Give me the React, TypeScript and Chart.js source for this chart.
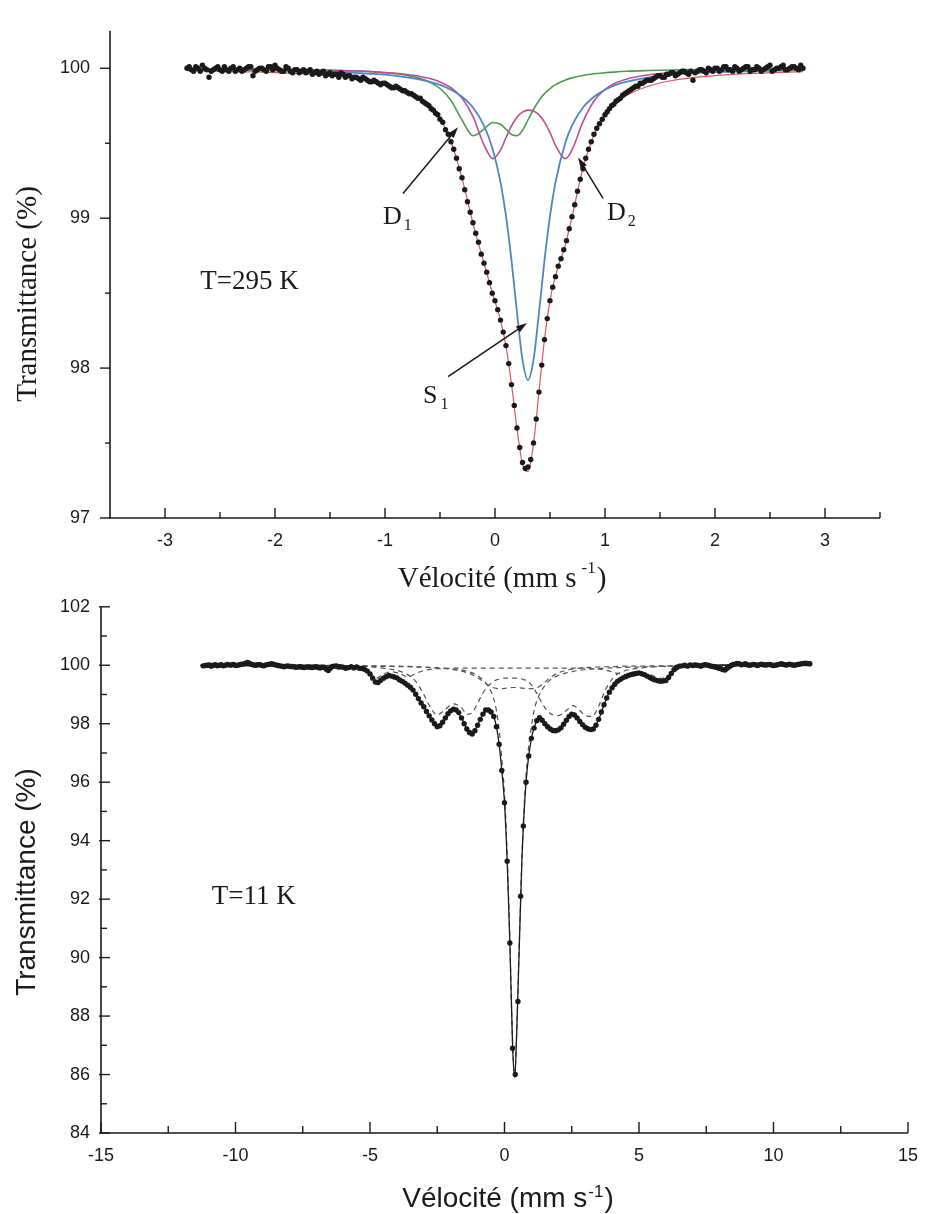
import React, { useEffect, useRef } from "react";
import { Chart, registerables } from "chart.js";

Chart.register(...registerables);

const SERIF = '"Liberation Serif", "Times New Roman", serif';
const SANS = '"Liberation Sans", Arial, sans-serif';
const INK = "#1a1a1a";

// ================= TOP PANEL : T = 295 K =================
const topYTicks = [97, 98, 99, 100];
const topYMinor = [97.5, 98.5, 99.5];
const topXTicks = [-3, -2, -1, 0, 1, 2, 3];
const topXMinor = [-2.5, -1.5, -0.5, 0.5, 1.5, 2.5, 3.5];

// measured points (velocity channels)
const topDataLeftStart = -2.8;
const topDataLeftStep = 0.04;
const topDataLeft = [
  100.0, 99.99, 100.01, 99.98, 100.0, 99.94, 99.99, 100.01, 99.98, 99.99,
  100.0, 99.98, 100.0, 99.99, 100.01, 99.95, 99.99, 100.0, 99.98, 100.01,
  100.02, 99.99, 99.98, 100.0, 99.97, 99.99, 99.98, 99.97, 99.99, 99.97,
  99.96, 99.98, 99.96, 99.95, 99.96, 99.97, 99.94, 99.95, 99.94, 99.93,
  99.94, 99.92, 99.91, 99.91, 99.89, 99.9, 99.88, 99.87, 99.87, 99.85,
  99.84, 99.83, 99.81, 99.8, 99.77, 99.75, 99.72, 99.69,
];
const topDataLeftBStart = -2.78;
const topDataLeftBStep = 0.04;
const topDataLeftB = [
  100.01, 99.98, 100.0, 100.02, 99.99, 99.98, 100.0, 99.99, 100.01, 99.98,
  100.01, 99.99, 99.98, 100.0, 100.01, 99.98, 100.0, 99.99, 100.01, 99.99,
  100.0, 99.98, 100.01, 99.98, 99.99, 99.97, 99.99, 99.98, 99.96, 99.98,
  99.97, 99.95, 99.97, 99.96, 99.94, 99.96, 99.95, 99.93, 99.94, 99.92,
  99.93, 99.91, 99.92, 99.9, 99.9, 99.89, 99.87, 99.88, 99.86, 99.85,
  99.83, 99.82, 99.8, 99.78, 99.76, 99.73, 99.7,
];
const topDataMidStart = -0.5;
const topDataMidStep = 0.025;
const topDataMid = [
  99.66, 99.64, 99.59, 99.56, 99.51, 99.46, 99.4, 99.33, 99.27, 99.19,
  99.11, 99.04, 98.97, 98.9, 98.84, 98.76, 98.7, 98.64, 98.57, 98.5,
  98.45, 98.39, 98.32, 98.24, 98.15, 98.03, 97.89, 97.75, 97.6, 97.47,
  97.37, 97.33, 97.34, 97.39, 97.5, 97.66, 97.84, 98.02, 98.19, 98.33,
  98.45, 98.54, 98.61, 98.68, 98.73, 98.79, 98.85, 98.93, 99.01, 99.09,
  99.18, 99.26, 99.33, 99.4, 99.46, 99.51, 99.56, 99.6, 99.63, 99.66,
  99.69,
];
const topDataRightStart = 1.04;
const topDataRightStep = 0.04;
const topDataRight = [
  99.73, 99.76, 99.79, 99.82, 99.84, 99.86, 99.88, 99.9, 99.91, 99.92,
  99.93, 99.95, 99.94, 99.96, 99.97, 99.95, 99.97, 99.98, 99.96, 99.92,
  99.98, 99.99, 99.97, 99.99, 100.0, 99.98, 100.01, 99.99, 99.98, 100.0,
  99.99, 100.01, 99.98, 99.99, 100.0, 99.99, 100.01, 99.98, 100.0, 100.01,
  99.99, 100.0, 100.01, 99.99, 100.0,
];
const topDataRightBStart = 1.02;
const topDataRightBStep = 0.04;
const topDataRightB = [
  99.71, 99.75, 99.78, 99.8, 99.83, 99.85, 99.87, 99.88, 99.9, 99.92,
  99.92, 99.94, 99.95, 99.94, 99.96, 99.97, 99.96, 99.98, 99.97, 99.98,
  99.97, 99.99, 99.98, 100.0, 99.98, 100.0, 99.99, 100.01, 99.99, 100.01,
  99.98, 100.0, 100.01, 99.99, 100.01, 99.98, 100.0, 100.02, 99.99, 100.0,
  100.02, 99.99, 100.01, 100.0, 100.02,
];

// fitted curves
const topFitV = [
  -2.8, -2.2, -1.8, -1.5, -1.3, -1.1, -1.0, -0.9, -0.8, -0.7,
  -0.6, -0.5, -0.4, -0.3, -0.2, -0.1, -0.02, 0.05, 0.1, 0.15,
  0.2, 0.25, 0.3, 0.35, 0.4, 0.45, 0.5, 0.55, 0.64, 0.7,
  0.8, 0.9, 1.0, 1.1, 1.2, 1.4, 1.6, 1.8, 2.2, 2.8,
];
const topTotal = [
  99.984, 99.976, 99.965, 99.951, 99.937, 99.915, 99.899, 99.879, 99.851, 99.812,
  99.754, 99.664, 99.512, 99.267, 98.966, 98.7, 98.491, 98.32, 98.146, 97.893,
  97.594, 97.36, 97.31, 97.495, 97.845, 98.191, 98.45, 98.615, 98.824, 99.008,
  99.334, 99.555, 99.686, 99.767, 99.82, 99.882, 99.917, 99.938, 99.961, 99.978,
];
const topS1 = [
  99.992, 99.988, 99.983, 99.977, 99.971, 99.962, 99.957, 99.949, 99.94, 99.928,
  99.911, 99.889, 99.857, 99.81, 99.738, 99.617, 99.457, 99.239, 99.014, 98.719,
  98.371, 98.055, 97.92, 98.055, 98.371, 98.719, 99.014, 99.239, 99.505, 99.617,
  99.738, 99.81, 99.857, 99.889, 99.911, 99.94, 99.957, 99.967, 99.979, 99.988,
];
const topD1 = [
  99.997, 99.994, 99.991, 99.987, 99.983, 99.976, 99.97, 99.963, 99.952, 99.936,
  99.91, 99.865, 99.785, 99.655, 99.55, 99.594, 99.638, 99.627, 99.594, 99.558,
  99.55, 99.587, 99.655, 99.725, 99.785, 99.831, 99.865, 99.891, 99.922, 99.936,
  99.952, 99.963, 99.97, 99.976, 99.98, 99.985, 99.989, 99.991, 99.994, 99.997,
];
const topD2 = [
  99.996, 99.993, 99.99, 99.987, 99.983, 99.977, 99.972, 99.967, 99.959, 99.948,
  99.933, 99.909, 99.87, 99.802, 99.678, 99.489, 99.397, 99.454, 99.538, 99.616,
  99.673, 99.707, 99.721, 99.715, 99.689, 99.641, 99.571, 99.486, 99.397, 99.455,
  99.644, 99.782, 99.859, 99.903, 99.929, 99.957, 99.971, 99.979, 99.988, 99.993,
];

// ================= BOTTOM PANEL : T = 11 K =================
const botYTicks = [84, 86, 88, 90, 92, 94, 96, 98, 100, 102];
const botYMinor = [85, 87, 89, 91, 93, 95, 97, 99, 101];
const botXTicks = [-15, -10, -5, 0, 5, 10, 15];
const botXMinor = [-12.5, -7.5, -2.5, 2.5, 7.5, 12.5];

const botDataLeftStart = -11.2;
const botDataLeftStep = 0.15;
const botDataLeft = [
  99.98, 100.0, 99.97, 100.02, 100.0, 99.98, 100.03, 100.01, 99.99, 100.02,
  100.04, 100.1, 100.03, 100.0, 100.02, 99.98, 100.03, 100.05, 100.01, 99.98,
  99.95, 99.98, 99.96, 99.93, 99.95, 99.92, 99.94, 99.92, 99.95, 99.91,
  99.93, 99.82, 99.96, 99.98, 99.95,
];
const botDataLeftBStart = -11.125;
const botDataLeftBStep = 0.15;
const botDataLeftB = [
  99.99, 100.01, 100.0, 99.98, 100.02, 100.0, 100.01, 100.03, 100.0, 100.04,
  100.07, 100.06, 100.01, 100.02, 100.0, 100.01, 100.04, 100.03, 99.99, 99.97,
  99.97, 99.96, 99.95, 99.94, 99.93, 99.94, 99.93, 99.94, 99.92, 99.93,
  99.86, 99.9, 99.97, 99.94,
];
const botDataMidStart = -6.0;
const botDataMidStep = 0.1;
const botDataMid = [
  99.93, 99.9, 99.92, 99.95, 99.91, 99.94, 99.9, 99.89, 99.86, 99.8,
  99.7, 99.56, 99.43, 99.41, 99.49, 99.56, 99.61, 99.65, 99.63, 99.6,
  99.57, 99.5, 99.45, 99.39, 99.32, 99.25, 99.15, 99.01, 98.86, 98.71,
  98.58, 98.42, 98.27, 98.13, 98.0, 97.9, 97.93, 98.05, 98.2, 98.34,
  98.44, 98.5, 98.47, 98.38, 98.2, 98.0, 97.82, 97.7, 97.65, 97.76,
  97.95, 98.15, 98.33, 98.47, 98.47, 98.4, 98.25, 97.9, 97.3, 96.4,
  95.3, 93.3, 90.5, 86.9, 86.0, 88.5, 92.1, 94.5, 96.0, 96.9,
  97.5, 97.85, 98.1, 98.21, 98.12, 98.0, 97.9, 97.82, 97.77, 97.76,
  97.79, 97.86, 97.98, 98.12, 98.25, 98.33, 98.3, 98.2, 98.08, 97.97,
  97.88, 97.83, 97.8, 97.82, 97.95, 98.15, 98.4, 98.65, 98.88, 99.08,
  99.23, 99.35, 99.45, 99.51, 99.57, 99.61, 99.65, 99.68, 99.7, 99.72,
  99.74, 99.71, 99.68, 99.63, 99.58, 99.53, 99.5, 99.47, 99.45, 99.46,
  99.48, 99.58, 99.72, 99.85, 99.93, 99.97, 99.98, 100.0, 99.97, 100.01,
  99.99,
];
const botDataRightStart = 7.15;
const botDataRightStep = 0.15;
const botDataRight = [
  100.0, 99.97, 100.02, 99.99, 99.96, 99.92, 99.88, 99.84, 99.95, 100.03,
  100.06, 100.02, 100.05, 100.0, 100.03, 99.99, 100.04, 100.01, 100.03, 99.99,
  100.02, 100.05, 100.01, 100.04, 100.0, 100.03, 100.05, 100.07, 100.05,
];
const botDataRightBStart = 7.075;
const botDataRightBStep = 0.15;
const botDataRightB = [
  100.01, 99.99, 100.0, 100.01, 99.97, 99.94, 99.9, 99.85, 99.9, 99.99,
  100.04, 100.05, 100.03, 100.02, 100.01, 100.02, 100.02, 100.02, 100.02, 100.01,
  100.0, 100.04, 100.03, 100.02, 100.02, 100.01, 100.04, 100.06, 100.06,
];

const botFitV = [
  -11.3, -8, -6, -5.3, -5.0, -4.78, -4.5, -4.2, -3.9, -3.6,
  -3.3, -3.0, -2.75, -2.5, -2.25, -1.9, -1.6, -1.4, -1.2, -1.0,
  -0.8, -0.65, -0.5, -0.4, -0.3, -0.2, -0.1, 0, 0.1, 0.2,
  0.3, 0.38, 0.45, 0.55, 0.65, 0.75, 0.85, 1.0, 1.1, 1.25,
  1.5, 1.7, 2.0, 2.3, 2.55, 2.8, 3.0, 3.25, 3.5, 3.7,
  3.9, 4.2, 4.5, 5.0, 5.4, 5.8, 6.1, 6.5, 7.0, 9,
  11.4,
];
const botFit = [
  99.99, 99.97, 99.93, 99.88, 99.72, 99.43, 99.56, 99.63, 99.52, 99.33,
  99.02, 98.6, 98.2, 97.93, 98.12, 98.48, 98.2, 97.83, 97.68, 97.95,
  98.33, 98.46, 98.4, 98.25, 97.9, 97.3, 96.4, 95.3, 93.3, 90.5,
  87.0, 85.9, 87.3, 90.4, 93.4, 95.3, 96.5, 97.5, 97.85, 98.17,
  98.0, 97.83, 97.78, 98.12, 98.31, 98.08, 97.88, 97.81, 98.15, 98.65,
  99.08, 99.45, 99.61, 99.72, 99.58, 99.47, 99.6, 99.96, 100.0, 100.01,
  100.02,
];
const botSextetA = [
  100.0, 100.0, 99.99, 99.97, 99.95, 99.93, 99.9, 99.86, 99.8, 99.68,
  99.45, 99.0, 98.55, 98.3, 98.45, 98.68, 98.55, 98.32, 98.38, 98.7,
  99.05, 99.25, 99.38, 99.45, 99.5, 99.53, 99.55, 99.56, 99.56, 99.56,
  99.56, 99.56, 99.56, 99.55, 99.53, 99.5, 99.45, 99.33, 99.2, 98.95,
  98.55, 98.35, 98.28, 98.45, 98.62, 98.45, 98.28, 98.25, 98.6, 99.05,
  99.4, 99.7, 99.82, 99.9, 99.94, 99.96, 99.97, 99.98, 99.99, 100.0,
  100.0,
];
const botDoublet = [
  100.0, 100.0, 99.99, 99.99, 99.98, 99.98, 99.98, 99.97, 99.97, 99.96,
  99.95, 99.94, 99.93, 99.91, 99.89, 99.85, 99.8, 99.75, 99.68, 99.58,
  99.45, 99.35, 99.27, 99.23, 99.21, 99.2, 99.2, 99.21, 99.22, 99.23,
  99.24, 99.24, 99.24, 99.23, 99.22, 99.21, 99.2, 99.2, 99.21, 99.25,
  99.42, 99.58, 99.74, 99.83, 99.87, 99.9, 99.92, 99.93, 99.94, 99.95,
  99.95, 99.96, 99.97, 99.97, 99.98, 99.98, 99.98, 99.99, 99.99, 100.0,
  100.0,
];
const botSinglet = [
  100.0, 99.99, 99.98, 99.98, 99.97, 99.97, 99.96, 99.96, 99.95, 99.95,
  99.94, 99.93, 99.92, 99.91, 99.9, 99.87, 99.84, 99.8, 99.74, 99.65,
  99.5, 99.34, 99.1, 98.85, 98.45, 97.8, 96.8, 95.6, 93.5, 90.6,
  87.1, 86.0, 87.4, 90.5, 93.5, 95.5, 96.8, 97.9, 98.45, 98.9,
  99.3, 99.5, 99.65, 99.74, 99.79, 99.83, 99.85, 99.87, 99.89, 99.9,
  99.91, 99.92, 99.93, 99.94, 99.95, 99.96, 99.96, 99.97, 99.97, 99.98,
  99.99,
];
const botSextetB = [
  100.0, 100.0, 99.97, 99.9, 99.75, 99.55, 99.7, 99.78, 99.72, 99.6,
  99.72, 99.82, 99.86, 99.88, 99.89, 99.9, 99.9, 99.9, 99.9, 99.9,
  99.9, 99.9, 99.9, 99.9, 99.9, 99.9, 99.9, 99.9, 99.9, 99.9,
  99.9, 99.9, 99.9, 99.9, 99.9, 99.9, 99.9, 99.9, 99.9, 99.9,
  99.9, 99.9, 99.9, 99.9, 99.9, 99.9, 99.9, 99.89, 99.87, 99.85,
  99.8, 99.72, 99.68, 99.75, 99.68, 99.55, 99.65, 99.88, 99.96, 100.0,
  100.0,
];

// ================= helpers =================
function channels(start: number, step: number, values: number[]) {
  return values.map((y, i) => ({ x: Math.round((start + i * step) * 10000) / 10000, y }));
}
function pairs(xs: number[], ys: number[]) {
  return ys.map((y, i) => ({ x: xs[i], y }));
}

type Piece = { text: string; size: number; dy?: number; dx?: number };
type Label = { pieces: Piece[]; family: string; v: number; t: number };
type Arrow = { from: [number, number]; to: [number, number] };
type DecorCfg = {
  yMajor: number[];
  yMinor: number[];
  xMajor: number[];
  xMinor: number[];
  yMajorOut: number;
  yMajorIn: number;
  yMinorOut: number;
  yMinorIn: number;
  xMajorUp: number;
  xMinorUp: number;
  xTitle: { pieces: Piece[]; family: string; cx: number; baseline: number };
  yTitle: { text: string; size: number; family: string; cx: number; cy: number };
  labels: Label[];
  arrows: Arrow[];
};

function drawPieces(ctx: CanvasRenderingContext2D, pieces: Piece[], family: string, x: number, y: number, center: boolean) {
  ctx.textAlign = "left";
  ctx.textBaseline = "alphabetic";
  const widths = pieces.map((p) => {
    ctx.font = `${p.size}px ${family}`;
    return ctx.measureText(p.text).width + (p.dx || 0);
  });
  const total = widths.reduce((a, b) => a + b, 0);
  let cx = center ? x - total / 2 : x;
  pieces.forEach((p, i) => {
    ctx.font = `${p.size}px ${family}`;
    ctx.fillText(p.text, cx + (p.dx || 0), y + (p.dy || 0));
    cx += widths[i];
  });
}

function makeDecor(cfg: DecorCfg) {
  return {
    id: "decor",
    afterDatasetsDraw(chart: any) {
      const ctx: CanvasRenderingContext2D = chart.ctx;
      const ca = chart.chartArea;
      const sx = chart.scales.x;
      const sy = chart.scales.y;
      ctx.save();
      ctx.strokeStyle = INK;
      ctx.fillStyle = INK;
      ctx.lineWidth = 1.6;
      ctx.beginPath();
      ctx.moveTo(ca.left, ca.top);
      ctx.lineTo(ca.left, ca.bottom);
      ctx.lineTo(ca.right, ca.bottom);
      ctx.stroke();
      ctx.lineWidth = 1.4;
      const yTick = (v: number, out: number, inn: number) => {
        const p = sy.getPixelForValue(v);
        ctx.beginPath();
        ctx.moveTo(ca.left - out, p);
        ctx.lineTo(ca.left + inn, p);
        ctx.stroke();
      };
      cfg.yMajor.forEach((v) => yTick(v, cfg.yMajorOut, cfg.yMajorIn));
      cfg.yMinor.forEach((v) => yTick(v, cfg.yMinorOut, cfg.yMinorIn));
      const xTick = (v: number, up: number) => {
        const p = sx.getPixelForValue(v);
        ctx.beginPath();
        ctx.moveTo(p, ca.bottom);
        ctx.lineTo(p, ca.bottom - up);
        ctx.stroke();
      };
      cfg.xMajor.forEach((v) => xTick(v, cfg.xMajorUp));
      cfg.xMinor.forEach((v) => xTick(v, cfg.xMinorUp));

      // axis titles
      drawPieces(ctx, cfg.xTitle.pieces, cfg.xTitle.family, cfg.xTitle.cx, cfg.xTitle.baseline, true);
      ctx.save();
      ctx.translate(cfg.yTitle.cx, cfg.yTitle.cy);
      ctx.rotate(-Math.PI / 2);
      ctx.textAlign = "center";
      ctx.textBaseline = "middle";
      ctx.font = `${cfg.yTitle.size}px ${cfg.yTitle.family}`;
      ctx.fillText(cfg.yTitle.text, 0, 0);
      ctx.restore();

      // annotations
      cfg.labels.forEach((l) => {
        drawPieces(ctx, l.pieces, l.family, sx.getPixelForValue(l.v), sy.getPixelForValue(l.t), false);
      });
      ctx.lineWidth = 1.5;
      cfg.arrows.forEach((a) => {
        const x1 = sx.getPixelForValue(a.from[0]);
        const y1 = sy.getPixelForValue(a.from[1]);
        const x2 = sx.getPixelForValue(a.to[0]);
        const y2 = sy.getPixelForValue(a.to[1]);
        const ang = Math.atan2(y2 - y1, x2 - x1);
        const hl = 11;
        const hw = 3.5;
        const bx = x2 - hl * Math.cos(ang);
        const by = y2 - hl * Math.sin(ang);
        ctx.beginPath();
        ctx.moveTo(x1, y1);
        ctx.lineTo(bx, by);
        ctx.stroke();
        ctx.beginPath();
        ctx.moveTo(x2, y2);
        ctx.lineTo(bx + hw * Math.sin(ang), by - hw * Math.cos(ang));
        ctx.lineTo(bx - hw * Math.sin(ang), by + hw * Math.cos(ang));
        ctx.closePath();
        ctx.fill();
      });
      ctx.restore();
    },
  };
}

function axisOpts(min: number, max: number, ticks: number[], padding: number, fit: (s: any) => void) {
  return {
    type: "linear",
    min,
    max,
    grid: { display: false, drawTicks: false },
    border: { display: false },
    afterBuildTicks: (s: any) => {
      s.ticks = ticks.map((v) => ({ value: v }));
    },
    afterFit: fit,
    ticks: {
      padding,
      color: INK,
      font: { family: SANS, size: 18 },
      maxRotation: 0,
      autoSkip: false,
      callback: (v: any) => String(v),
    },
  };
}

function lineDs(label: string, data: any[], color: string, width: number, order: number, dash?: number[]) {
  return {
    label,
    data,
    borderColor: color,
    borderWidth: width,
    borderDash: dash || [],
    pointRadius: 0,
    fill: false,
    cubicInterpolationMode: "monotone",
    order,
  };
}

function dataDs(data: any[]) {
  return {
    label: "mesure",
    data,
    showLine: false,
    pointRadius: 2.7,
    pointBackgroundColor: INK,
    pointBorderWidth: 0,
    order: 0,
  };
}

function topConfig(): any {
  const decor = makeDecor({
    yMajor: topYTicks,
    yMinor: topYMinor,
    xMajor: topXTicks,
    xMinor: topXMinor,
    yMajorOut: 10,
    yMajorIn: 0,
    yMinorOut: 5,
    yMinorIn: 0,
    xMajorUp: 10,
    xMinorUp: 6,
    xTitle: {
      family: SERIF,
      cx: 502,
      baseline: 587,
      pieces: [
        { text: "Vélocité (mm s", size: 29 },
        { text: "-1", size: 17, dy: -14, dx: 5 },
        { text: ")", size: 29, dx: 1 },
      ],
    },
    yTitle: { text: "Transmittance (%)", size: 29, family: SERIF, cx: 28, cy: 294 },
    labels: [
      { family: SERIF, v: -2.68, t: 98.53, pieces: [{ text: "T=295 K", size: 27 }] },
      { family: SERIF, v: -1.018, t: 98.963, pieces: [{ text: "D", size: 26 }, { text: "1", size: 16, dy: 6, dx: 2 }] },
      { family: SERIF, v: 1.018, t: 98.99, pieces: [{ text: "D", size: 26 }, { text: "2", size: 16, dy: 6, dx: 2 }] },
      { family: SERIF, v: -0.655, t: 97.77, pieces: [{ text: "S", size: 26 }, { text: "1", size: 16, dy: 6, dx: 3 }] },
    ],
    arrows: [
      { from: [-0.836, 99.165], to: [-0.336, 99.607] },
      { from: [0.982, 99.132], to: [0.755, 99.405] },
      { from: [-0.427, 97.943], to: [0.291, 98.3] },
    ],
  });
  const data = [
    ...channels(topDataLeftStart, topDataLeftStep, topDataLeft),
    ...channels(topDataLeftBStart, topDataLeftBStep, topDataLeftB),
    ...channels(topDataMidStart, topDataMidStep, topDataMid),
    ...channels(topDataRightStart, topDataRightStep, topDataRight),
    ...channels(topDataRightBStart, topDataRightBStep, topDataRightB),
  ];
  return {
    type: "line",
    data: {
      datasets: [
        dataDs(data),
        lineDs("ajustement", pairs(topFitV, topTotal), "#e0575a", 1.2, 1),
        lineDs("S1", pairs(topFitV, topS1), "#4a86c8", 1.8, 2),
        lineDs("D2", pairs(topFitV, topD2), "#c34b93", 1.6, 3),
        lineDs("D1", pairs(topFitV, topD1), "#4a9e4a", 1.6, 4),
      ],
    },
    options: {
      responsive: false,
      animation: false,
      events: [],
      layout: { padding: { left: 0, right: 50, top: 18, bottom: 22 } },
      plugins: { legend: { display: false }, tooltip: { enabled: false } },
      scales: {
        x: axisOpts(-3.5, 3.5, topXTicks, 12, (s: any) => {
          s.height = 60;
        }),
        y: axisOpts(97, 100.25, topYTicks, 20, (s: any) => {
          s.width = 110;
        }),
      },
    },
    plugins: [decor],
  };
}

function botConfig(): any {
  const decor = makeDecor({
    yMajor: botYTicks,
    yMinor: botYMinor,
    xMajor: botXTicks,
    xMinor: botXMinor,
    yMajorOut: 2,
    yMajorIn: 9,
    yMinorOut: 0,
    yMinorIn: 6,
    xMajorUp: 11,
    xMinorUp: 7,
    xTitle: {
      family: SANS,
      cx: 508,
      baseline: 622,
      pieces: [
        { text: "Vélocité (mm s", size: 28 },
        { text: "-1", size: 17, dy: -10, dx: 1 },
        { text: ")", size: 28, dx: 1 },
      ],
    },
    yTitle: { text: "Transmittance (%)", size: 28, family: SANS, cx: 27, cy: 297 },
    labels: [{ family: SERIF, v: -10.88, t: 91.84, pieces: [{ text: "T=11 K", size: 27 }] }],
    arrows: [],
  });
  const data = [
    ...channels(botDataLeftStart, botDataLeftStep, botDataLeft),
    ...channels(botDataLeftBStart, botDataLeftBStep, botDataLeftB),
    ...channels(botDataMidStart, botDataMidStep, botDataMid),
    ...channels(botDataRightStart, botDataRightStep, botDataRight),
    ...channels(botDataRightBStart, botDataRightBStep, botDataRightB),
  ];
  const dash = [5, 4];
  return {
    type: "line",
    data: {
      datasets: [
        dataDs(data),
        lineDs("ajustement", pairs(botFitV, botFit), INK, 1.3, 1),
        lineDs("sextet A", pairs(botFitV, botSextetA), "#555555", 1.2, 2, dash),
        lineDs("doublet", pairs(botFitV, botDoublet), "#555555", 1.2, 3, dash),
        lineDs("singulet", pairs(botFitV, botSinglet), "#555555", 1.2, 4, dash),
        lineDs("sextet B", pairs(botFitV, botSextetB), "#555555", 1.2, 5, dash),
      ],
    },
    options: {
      responsive: false,
      animation: false,
      events: [],
      layout: { padding: { left: 0, right: 13, top: 12, bottom: 21 } },
      plugins: { legend: { display: false }, tooltip: { enabled: false } },
      scales: {
        x: axisOpts(-15, 15, botXTicks, 12, (s: any) => {
          s.height = 60;
        }),
        y: axisOpts(84, 102, botYTicks, 11, (s: any) => {
          s.width = 101;
        }),
      },
    },
    plugins: [decor],
  };
}

export default function App() {
  const topRef = useRef<HTMLCanvasElement>(null);
  const botRef = useRef<HTMLCanvasElement>(null);
  useEffect(() => {
    const c1 = new Chart(topRef.current as HTMLCanvasElement, topConfig());
    const c2 = new Chart(botRef.current as HTMLCanvasElement, botConfig());
    return () => {
      c1.destroy();
      c2.destroy();
    };
  }, []);
  return (
    <div style={{ position: "absolute", left: 0, top: 0, width: 930, height: 1214, background: "#ffffff" }}>
      <canvas
        ref={topRef}
        width={930}
        height={600}
        style={{ position: "absolute", left: 0, top: 0, width: 930, height: 600 }}
      />
      <canvas
        ref={botRef}
        width={930}
        height={629}
        style={{ position: "absolute", left: 0, top: 585, width: 930, height: 629 }}
      />
    </div>
  );
}
